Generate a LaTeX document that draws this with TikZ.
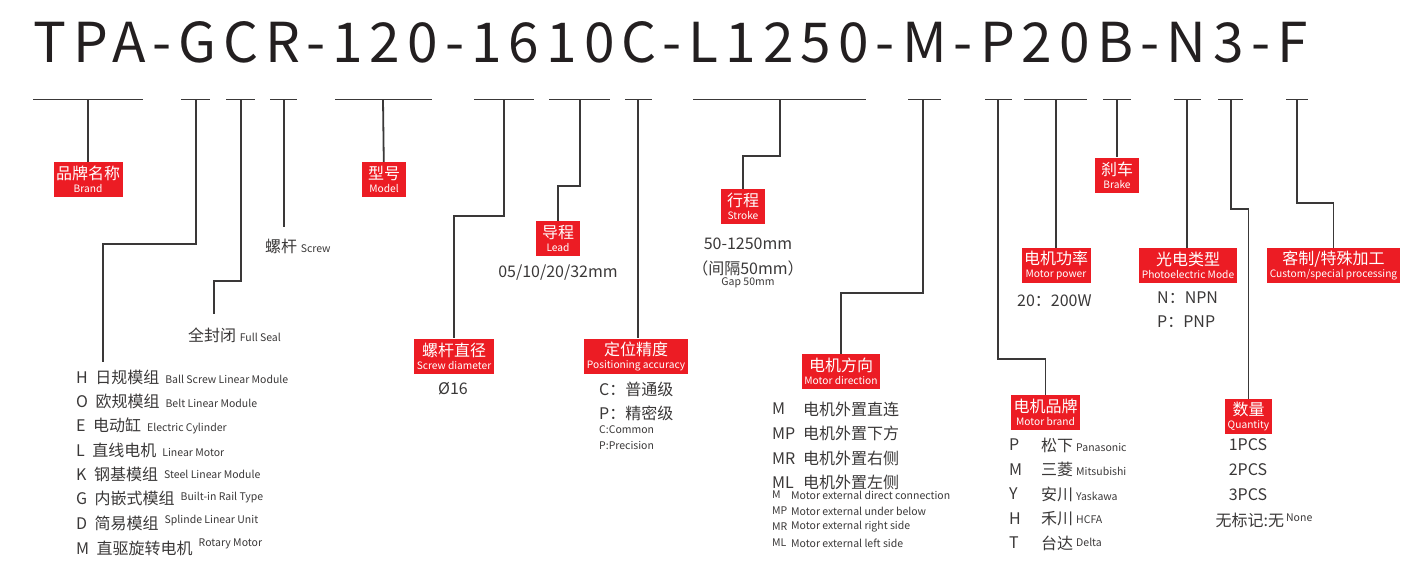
\documentclass[tikz,border=0pt]{standalone}
\usepackage{fontspec}
\setmainfont{Noto Sans CJK SC}
\usetikzlibrary{positioning}
\definecolor{tagred}{RGB}{236,28,36}
\definecolor{ink}{RGB}{58,56,56}
\definecolor{codeink}{RGB}{35,31,32}
\newcommand{\en}[1]{{\fontsize{10.5}{11}\selectfont #1}}
\newcommand{\tagen}[1]{{\fontsize{10.2}{11}\selectfont #1}}
\tikzset{
  ul/.style={draw=ink, line width=1.8pt},
  wire/.style={draw=ink, line width=1.8pt},
  tag/.style={fill=tagred, text=white, align=center, inner xsep=2.5pt, inner ysep=1pt,
    minimum width=44pt, minimum height=35pt, font=\fontsize{16}{13}\selectfont},
  item/.style={text=ink, inner sep=0pt, anchor=west, font=\fontsize{16}{18}\selectfont},
  note/.style={text=ink, inner sep=0pt, anchor=west, font=\fontsize{10.5}{11}\selectfont},
}
\begin{document}
\begin{tikzpicture}[x=1pt, y=-1pt]
  \useasboundingbox (0,0) rectangle (1416,562);

  % Model code
  \node[anchor=base west, inner sep=0pt, text=codeink,
    font=\fontsize{55}{55}\selectfont\addfontfeature{LetterSpace=12.9}] (code) at (33,62)
    {TPA-GCR-120-1610C-L1250-M-P20B-N3-F};

  % Underlines with tick points
  \foreach \a/\b/\t [count=\i] in {33/143/88, 181/210/196, 226/255/241, 270/297/284,
      335/432/383, 474/534/504, 549/610/580, 625/652/638, 693/866/780, 908/941/923,
      985/1012/998, 1024/1087/1056, 1103/1131/1117, 1174/1201/1187, 1218/1243/1231,
      1286/1308/1297} {
    \draw[ul] (\a,99.5) -- (\b,99.5);
    \coordinate (u\i) at (\t,99.5);
  }

  % Red tags
  \node[tag] (brand) at (88,179.5) {品牌名称\\\tagen{Brand}};
  \node[tag] (model) at (384,179.5) {型号\\\tagen{Model}};
  \node[tag] (screwdia) at (454,356) {螺杆直径\\\tagen{Screw diameter}};
  \node[tag] (lead) at (558,238.5) {导程\\\tagen{Lead}};
  \node[tag] (accuracy) at (636,356) {定位精度\\\tagen{Positioning accuracy}};
  \node[tag] (stroke) at (743,206.5) {行程\\\tagen{Stroke}};
  \node[tag] (motordir) at (841,371.5) {电机方向\\\tagen{Motor direction}};
  \node[tag] (motorbrand) at (1045.5,412.5) {电机品牌\\\tagen{Motor brand}};
  \node[tag] (power) at (1056,265.5) {电机功率\\\tagen{Motor power}};
  \node[tag] (brake) at (1117,175) {刹车\\\tagen{Brake}};
  \node[tag] (photo) at (1188,265.5) {光电类型\\\tagen{Photoelectric Mode}};
  \node[tag] (qty) at (1248.5,416.5) {数量\\\tagen{Quantity}};
  \node[tag] (custom) at (1333.5,265.5) {客制/特殊加工\\\tagen{Custom/special processing}};

  % Plain labels
  \node[item] (screw) at (265,246) {螺杆 \en{Screw}};
  \node[item] (seal) at (188,335) {全封闭 \en{Full Seal}};
  \node[item, anchor=center] (dia) at (453,389) {Ø16};
  \node[item, anchor=center] (leadval) at (558,273) {05/10/20/32mm};
  \node[item, anchor=center] (strokeval) at (748,244) {50-1250mm};
  \node[item, anchor=center] (strokegap) at (748,268) {（间隔50mm）};
  \node[note, anchor=center] (strokegapen) at (748,283) {Gap 50mm};
  \node[item] (powerval) at (1017,301) {20：200W};
  \node[item] (npn) at (1157,298) {N：NPN};
  \node[item] (pnp) at (1157,322) {P：PNP};
  \node[item] (accc) at (599,389) {C：普通级};
  \node[item] (accp) at (599,413) {P：精密级};
  \node[note] (acccen) at (599,430) {C:Common};
  \node[note] (accpen) at (599,445) {P:Precision};

  % Product types
  \foreach \k/\c/\e/\r [count=\i] in {H/日规模组/Ball Screw Linear Module/0,
      O/欧规模组/Belt Linear Module/0, E/电动缸/Electric Cylinder/0,
      L/直线电机/Linear Motor/0, K/钢基模组/Steel Linear Module/2,
      G/内嵌式模组/Built-in Rail Type/4, D/简易模组/Splinde Linear Unit/6,
      M/直驱旋转电机/Rotary Motor/8} {
    \node[item] (type\i) at (76,{377+(\i-1)*24.3}) {\k\hspace{7.5pt}\c\hspace{6pt}\raisebox{\r pt}{\en{\e}}};
  }

  % Motor direction
  \foreach \k/\c [count=\i] in {M/电机外置直连, MP/电机外置下方, MR/电机外置右侧, ML/电机外置左侧} {
    \node[item] (dirk\i) at (772,{409+(\i-1)*24.6}) {\k};
    \node[item] (dir\i) at (803,{409+(\i-1)*24.6}) {\c};
  }
  \foreach \k/\e [count=\i] in {M/Motor external direct connection, MP/Motor external under below,
      MR/Motor external right side, ML/Motor external left side} {
    \node[note] (direnk\i) at (772,{495+(\i-1)*16}) {\k};
    \node[note] (diren\i) at (791,{495+(\i-1)*16}) {\e};
  }

  % Motor brands
  \foreach \k/\c/\e/\r [count=\i] in {P/松下/Panasonic/0, M/三菱/Mitsubishi/0, Y/安川/Yaskawa/0,
      H/禾川/HCFA/1, T/台达/Delta/3} {
    \node[item] (mbk\i) at (1009,{445+(\i-1)*24.5}) {\k};
    \node[item] (mb\i) at (1041,{445+(\i-1)*24.5}) {\c\hspace{3pt}\raisebox{\r pt}{\en{\e}}};
  }

  % Quantity
  \foreach \q [count=\i] in {1PCS, 2PCS, 3PCS} {
    \node[item, anchor=center] (q\i) at (1248,{445+(\i-1)*25}) {\q};
  }
  \node[item, anchor=center] (q4) at (1264,520) {无标记:无\hspace{2pt}\raisebox{5pt}{\en{None}}};

  % Free ends of connectors
  \coordinate (typetop) at (103,362);
  \coordinate (sealtop) at (214,314);
  \coordinate (screwtop) at (284,227);

  % Connectors
  \draw[wire] (u1) -- (brand);
  \draw[wire] (u2) -- ++(0,144.5) -| (typetop);
  \draw[wire] (u3) -- ++(0,181.5) -| (sealtop);
  \draw[wire] (u4) -- (screwtop);
  \draw[wire] (u5) -- (model);
  \draw[wire] (u6) -- ++(0,116.5) -| (screwdia);
  \draw[wire] (u7) -- ++(0,86.5) -| (lead);
  \draw[wire] (u8) -- (u8 |- accuracy.north);
  \draw[wire] (u9) -- ++(0,56.5) -| (stroke);
  \draw[wire] (u10) -- ++(0,193.5) -| (motordir);
  \draw[wire] (u11) -- ++(0,259.5) -| (motorbrand);
  \draw[wire] (u12) -- (u12 |- power.north);
  \draw[wire] (u13) -- (u13 |- brake.north);
  \draw[wire] (u14) -- (u14 |- photo.north);
  \draw[wire] (u15) -- ++(0,109.5) -| (qty);
  \draw[wire] (u16) -- ++(0,103.5) -| (custom);
\end{tikzpicture}
\end{document}
